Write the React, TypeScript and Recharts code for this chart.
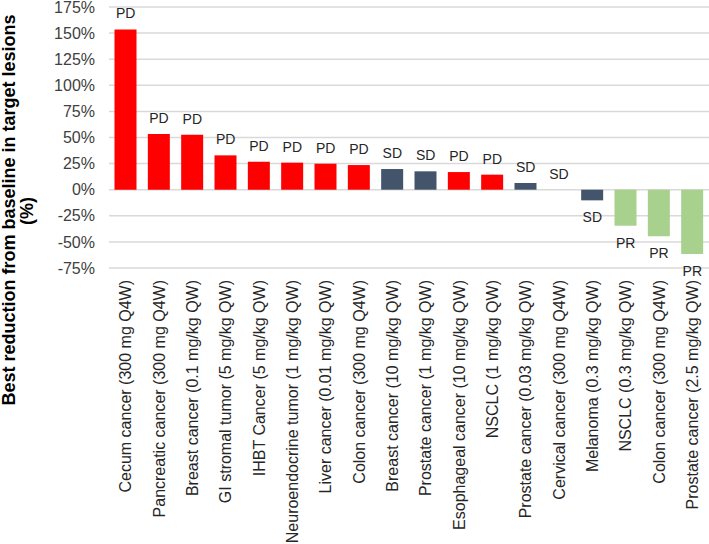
import { Bar, CartesianGrid, Cell, ComposedChart, LabelList, Line, XAxis, YAxis } from "recharts";

const categories = [
  "Cecum cancer (300 mg Q4W)",
  "Pancreatic cancer (300 mg Q4W)",
  "Breast cancer (0.1 mg/kg QW)",
  "GI stromal tumor (5 mg/kg QW)",
  "IHBT Cancer (5 mg/kg QW)",
  "Neuroendocrine tumor (1 mg/kg QW)",
  "Liver cancer (0.01 mg/kg QW)",
  "Colon cancer (300 mg Q4W)",
  "Breast cancer (10 mg/kg QW)",
  "Prostate cancer (1 mg/kg QW)",
  "Esophageal cancer (10 mg/kg QW)",
  "NSCLC (1 mg/kg QW)",
  "Prostate cancer (0.03 mg/kg QW)",
  "Cervical cancer (300 mg Q4W)",
  "Melanoma (0.3 mg/kg QW)",
  "NSCLC (0.3 mg/kg QW)",
  "Colon cancer (300 mg Q4W)",
  "Prostate cancer (2.5 mg/kg QW)",
];

// best change from baseline, %
const changes = [153.5, 53.3, 52.7, 32.9, 26.8, 25.9, 24.9, 23.6, 19.8, 17.6, 16.9, 14.4, 6.4, 0, -10.2, -34.5, -44.7, -61.6];

const responses = ["PD", "PD", "PD", "PD", "PD", "PD", "PD", "PD", "SD", "SD", "PD", "PD", "SD", "SD", "SD", "PR", "PR", "PR"];

const yTicks = [-75, -50, -25, 0, 25, 50, 75, 100, 125, 150, 175];

const responseColors: Record<string, string> = {
  PD: "#ff0000",
  SD: "#44546a",
  PR: "#a9d18e",
};

const FONT = "'Liberation Sans', Arial, sans-serif";

const data = categories.map((name, i) => ({ name, change: changes[i], response: responses[i] }));

function CategoryTick(props: any) {
  const { x, y, payload } = props;
  return (
    <text
      x={x}
      y={y}
      dy="0.35em"
      transform={`rotate(-90, ${x}, ${y})`}
      textAnchor="end"
      fontSize={16}
      fontFamily={FONT}
      fill="#262626"
    >
      {payload.value}
    </text>
  );
}

// labels hang off an invisible line so the zero-height bar keeps its label too
function ResponseLabel(props: any) {
  const { x, y, index, value } = props;
  const cy = changes[index] >= 0 ? y - 16 : y + 17;
  return (
    <text x={x} y={cy} dy="0.36em" textAnchor="middle" fontSize={14} fontFamily={FONT} fill="#262626">
      {value}
    </text>
  );
}

function AxisTitle() {
  return (
    <g fontFamily={FONT} fontWeight="bold" fontSize={18} fill="#000">
      <text x={9} y={210} dy="0.35em" textAnchor="middle" transform="rotate(-90, 9, 210)">
        Best reduction from baseline in target lesions
      </text>
      <text x={27} y={211} dy="0.35em" textAnchor="middle" transform="rotate(-90, 27, 211)">
        (%)
      </text>
    </g>
  );
}

export default function App() {
  return (
    <div style={{ position: "absolute", left: 0, top: 0, width: 709, height: 544, background: "#fff" }}>
      <ComposedChart
        width={709}
        height={544}
        data={data}
        margin={{ top: 7, right: 0, left: 0, bottom: 0 }}
        barCategoryGap="16.5%"
      >
        <CartesianGrid vertical={false} stroke="#d9d9d9" strokeWidth={1.5} />
        <XAxis
          dataKey="name"
          interval={0}
          height={276}
          axisLine={false}
          tickLine={false}
          tickSize={6}
          tickMargin={6}
          tick={<CategoryTick />}
        />
        <YAxis
          width={109}
          domain={[-75, 175]}
          ticks={yTicks}
          interval={0}
          axisLine={false}
          tickLine={false}
          tickMargin={8}
          tickFormatter={(v: number) => `${v}%`}
          tick={{ fontSize: 16, fontFamily: FONT, fill: "#404040" }}
          label={{ content: () => <AxisTitle /> }}
        />
        <Bar dataKey="change" isAnimationActive={false}>
          {data.map((d, i) => (
            <Cell key={i} fill={responseColors[d.response]} />
          ))}
        </Bar>
        <Line dataKey="change" stroke="none" dot={false} activeDot={false} isAnimationActive={false}>
          <LabelList dataKey="response" content={<ResponseLabel />} />
        </Line>
      </ComposedChart>
    </div>
  );
}
